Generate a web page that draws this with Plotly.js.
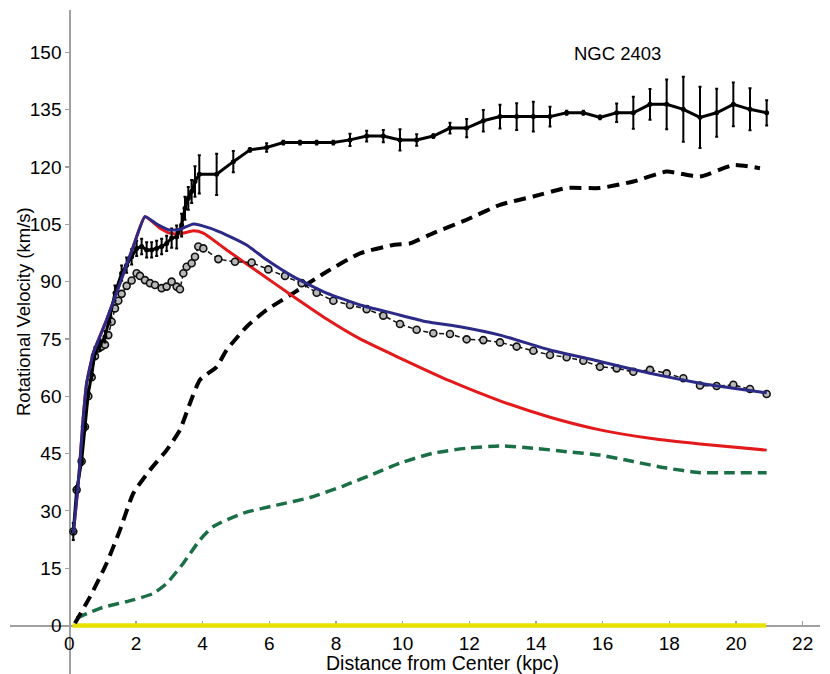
<!DOCTYPE html>
<html>
<head>
<meta charset="utf-8">
<script src="https://cdn.plot.ly/plotly-3.0.1.min.js"></script>
<style>html,body{margin:0;padding:0;background:#fff;}#chart{width:830px;height:674px;}</style>
</head>
<body>
<div id="chart"></div>
<script>
// Observed rotation curve (km/s) with errors
const obsX = [0.12,0.22,0.37,0.47,0.57,0.67,0.77,0.92,1.07,1.22,1.37,1.57,1.72,1.87,2.02,2.17,2.32,2.47,2.62,2.77,2.92,3.07,3.22,3.37,3.47,3.57,3.67,3.77,3.9,4.42,4.92,5.42,5.92,6.42,6.92,7.42,7.92,8.42,8.92,9.42,9.92,10.42,10.92,11.42,11.92,12.42,12.92,13.42,13.92,14.42,14.92,15.42,15.92,16.42,16.92,17.42,17.92,18.42,18.92,19.42,19.92,20.42,20.92];
const obsV = [24.6,35.5,43,52,60.8,65.6,71.3,73.4,75.6,80.8,87,92.2,94.3,96.5,98.7,99.2,98.3,98.3,98.7,99.2,100,101.4,101.7,104.8,109.2,111.8,113.6,116.2,118.1,118.1,121.4,124.5,125.1,126.4,126.4,126.4,126.4,127.1,128.1,128.1,127.1,127.1,128.1,130.2,130.2,132.1,133.2,133.2,133.2,133.2,134.2,134.2,133.0,134.2,134.2,136.4,136.4,135.1,133.0,134.2,136.4,135.1,134.2];
const obsErr = [2.2,1,1,1,1,1,1.5,1.5,1.5,1.5,2,2,2,2,2,2,2,2,2,2,2,2.5,3,3,3,3,3,4,5,5.4,2.8,0.5,1.1,0.5,0.5,0.5,0.5,1.6,1.4,1.6,2.8,1.5,0.5,1.4,2.4,2.8,3.1,3.5,3.9,2.6,0.5,0.5,0.5,2.4,4.2,4.0,6.5,8.5,8.0,6.3,5.7,5.5,3.3];

// Circle-marker dashed curve
const circX = [0.12,0.22,0.37,0.47,0.57,0.67,0.77,0.87,0.97,1.07,1.17,1.27,1.37,1.47,1.57,1.72,1.87,2.02,2.12,2.27,2.42,2.57,2.77,2.92,3.07,3.22,3.32,3.42,3.52,3.67,3.77,3.87,4.02,4.47,4.97,5.47,5.97,6.47,6.97,7.42,7.92,8.42,8.92,9.42,9.92,10.42,10.92,11.42,11.92,12.42,12.92,13.42,13.92,14.42,14.92,15.42,15.92,16.42,16.92,17.42,17.92,18.42,18.92,19.42,19.92,20.42,20.92];
const circV = [24.6,35.5,43,52,60,65,70.5,72.5,73,73.5,76,79.5,83,85,86.8,88.9,90.3,92.2,91.5,90.4,89.6,89.1,88.3,88.7,90,88.7,88.0,92.2,93.9,94.8,96.5,99.2,98.7,95.9,95.2,95.0,93.2,91.5,89.6,87.1,85.0,83.9,82.8,81.1,78.9,77.4,76.5,76.3,74.9,74.7,74.1,73.0,71.9,70.8,70.2,69.3,67.7,67.3,66.4,66.9,66.0,64.7,62.8,62.7,63.0,61.9,60.6];

// Blue total model
const blueX = [0.12,0.27,0.42,0.52,0.72,1.12,1.52,1.92,2.27,2.62,3.02,3.32,3.72,4.22,4.72,5.32,5.92,6.72,7.72,8.72,9.72,10.72,11.72,12.92,14.42,15.92,17.42,18.92,19.92,20.92];
const blueV = [24.1,37.2,54.7,63.4,71.3,80,89.6,99.2,107.0,105.1,103.5,103.7,105.1,104.0,102.2,99.6,95.7,91.3,87.0,83.9,81.7,79.5,78.2,76.0,72.1,69.1,66.0,63.4,62.1,60.9];

// Red model
const redX = [0.12,0.27,0.42,0.52,0.72,1.12,1.52,1.92,2.27,2.72,3.02,3.32,3.72,4.02,4.72,5.72,6.72,7.72,8.72,9.92,11.42,12.92,14.42,15.92,17.42,18.92,20.92];
const redV = [24.1,37.2,54.7,63.4,71.3,80,89.6,99.2,107.0,104.0,102.7,102.5,103.3,102.7,98.3,92.2,86.1,80.2,75.0,70.0,64.0,58.8,54.5,51.2,49.0,47.5,45.9];

// Black dashed curve
const haloX = [0.17,0.62,1.12,1.52,1.92,2.42,2.92,3.32,3.62,3.92,4.42,4.72,5.32,5.92,6.72,7.72,8.72,9.72,10.22,10.92,11.92,12.92,13.92,14.92,15.92,16.92,17.92,18.92,19.92,20.72];
const haloV = [0.6,7.5,16.3,25,34.6,40.7,45.9,51.2,58.2,64.3,67.7,72.1,78.2,82.6,87.0,92.6,97.4,99.6,100,102.7,106.2,110.1,112.3,114.5,114.5,116.2,118.8,117.5,120.5,119.7];

// Green dashed curve
const gasX = [0.22,0.92,1.92,2.52,2.92,3.42,3.92,4.32,5.22,6.22,7.22,8.22,9.22,9.92,10.92,11.92,12.92,13.92,14.92,15.92,16.92,17.92,18.92,19.92,20.92];
const gasV = [1.9,4.5,6.7,8.4,11,16.3,22.4,25.9,29.4,31.5,33.5,36.5,40.0,42.5,45.1,46.4,47.0,46.4,45.5,44.6,42.9,41.2,40.0,40.0,40.0];

// Yellow baseline curve
const zeroX = [0.1, 20.9];
const zeroV = [0, 0];

const xTicks = [0,2,4,6,8,10,12,14,16,18,20,22];
const yTicks = [0,15,30,45,60,75,90,105,120,135,150];

const xTitle = 'Distance from Center (kpc)';
const yTitle = 'Rotational Velocity (km/s)';
const galaxyName = 'NGC 2403';

const xMin = -1.779, xMax = 22.52, yMin = -12.7, yMax = 161.1;

const traces = [
  {x: zeroX, y: zeroV, mode: 'lines', line: {color: '#e9e200', width: 4.5}, hoverinfo: 'skip'},
  {x: gasX, y: gasV, mode: 'lines', line: {color: '#1b6f47', width: 3.5, dash: '11px,6px', shape: 'spline', smoothing: 0.6}},
  {x: haloX, y: haloV, mode: 'lines', line: {color: '#000000', width: 4, dash: '12px,7px', shape: 'spline', smoothing: 0.5}},
  {x: redX, y: redV, mode: 'lines', line: {color: '#e3191b', width: 3, shape: 'spline', smoothing: 0.5}},
  {x: circX, y: circV, mode: 'lines+markers', line: {color: '#111', width: 1.5, dash: '5px,3px'},
   marker: {symbol: 'circle', size: 7, color: '#b8b8b8', line: {color: '#111', width: 1.6}}},
  {x: obsX, y: obsV, mode: 'lines+markers', line: {color: '#000', width: 3},
   marker: {size: 5, color: '#000'},
   error_y: {type: 'data', array: obsErr, visible: true, color: '#000', thickness: 2, width: 1.5}},
  {x: blueX, y: blueV, mode: 'lines', line: {color: '#2b2a86', width: 3, shape: 'spline', smoothing: 0.4}}
];

const fam = 'Liberation Sans, Arial, sans-serif';
const tickFont = {family: fam, size: 19, color: '#000'};

const layout = {
  width: 830, height: 674,
  margin: {l: 10, r: 10, t: 10, b: 0},
  paper_bgcolor: '#fff', plot_bgcolor: '#fff',
  showlegend: false,
  font: {family: fam, size: 18, color: '#000'},
  xaxis: {
    range: [xMin, xMax], anchor: 'free', position: (0 - yMin) / (yMax - yMin),
    tickmode: 'array', tickvals: xTicks, ticktext: xTicks.map(String),
    showline: true, linecolor: '#a0a0a0', linewidth: 1.5, layer: 'below traces',
    ticks: 'inside', ticklen: 4, tickcolor: '#a0a0a0', tickwidth: 1.2,
    showgrid: false, zeroline: false, tickfont: tickFont
  },
  yaxis: {
    range: [yMin, yMax], anchor: 'free', position: (0 - xMin) / (xMax - xMin),
    tickmode: 'array', tickvals: yTicks, ticktext: yTicks.map(String),
    showline: true, linecolor: '#a0a0a0', linewidth: 1.5, layer: 'below traces',
    ticks: 'outside', ticklen: 4, tickcolor: '#a0a0a0', tickwidth: 1.2,
    showgrid: false, zeroline: false, tickfont: tickFont
  },
  annotations: [
    {x: 16.45, y: 149.8, xref: 'x', yref: 'y', text: galaxyName, showarrow: false,
     font: {family: fam, size: 18.5, color: '#000'}},
    {x: (442 - 10) / 810, y: (674 - 663) / 664, xref: 'paper', yref: 'paper', text: xTitle, showarrow: false,
     xanchor: 'center', yanchor: 'middle', font: {family: fam, size: 19.5, color: '#000'}},
    {x: (23 - 10) / 810, y: (674 - 312) / 664, xref: 'paper', yref: 'paper', text: yTitle, showarrow: false,
     textangle: -90, xanchor: 'center', yanchor: 'middle', font: {family: fam, size: 18.5, color: '#000'}}
  ]
};

Plotly.newPlot('chart', traces, layout, {displayModeBar: false, staticPlot: true});
</script>
</body>
</html>
